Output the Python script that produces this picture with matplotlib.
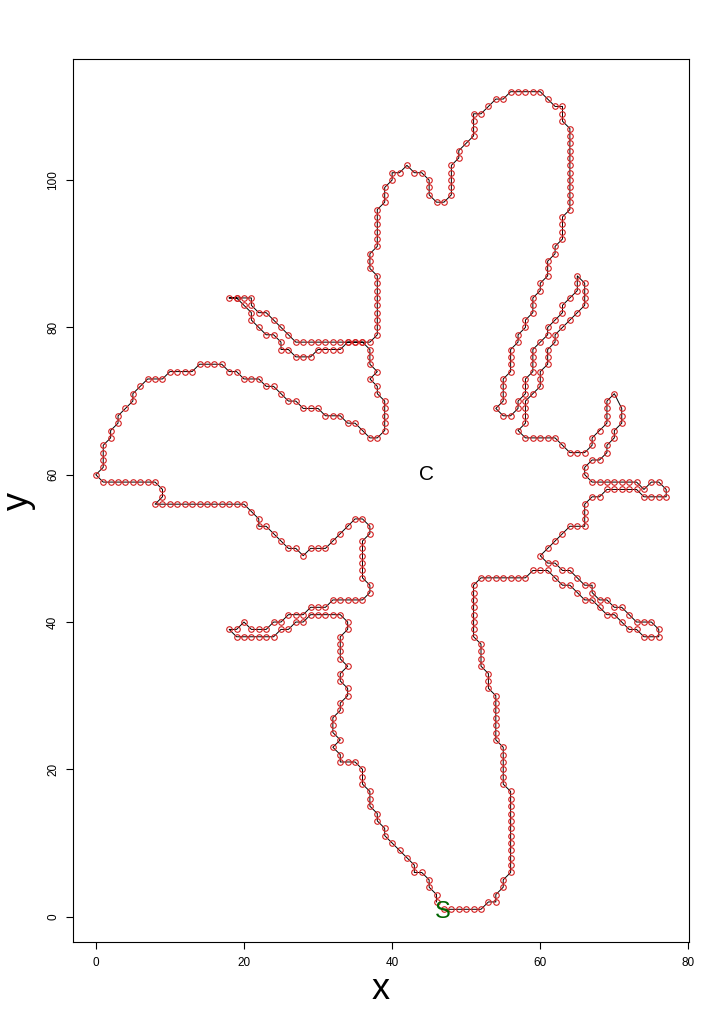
import matplotlib
matplotlib.use("Agg")
import matplotlib.pyplot as plt
import numpy as np

# contour points, traced counter-clockwise from the start point S
base_right_x = [47, 48, 49, 50, 51, 52, 53, 54, 54, 55, 55,
                56, 56, 56, 56, 56, 56, 56, 56, 56, 56, 56, 56,
                55, 55, 55, 55, 55, 55,
                54, 54, 54, 54, 54, 54, 54,
                53, 53, 53,
                52, 52, 52, 52,
                51, 51, 51, 51, 51, 51, 51, 51,
                52, 53, 54, 55, 56, 57, 58,
                59, 60, 61]
base_right_y = [1, 1, 1, 1, 1, 1, 2, 2, 3, 4, 5,
                6, 7, 8, 9, 10, 11, 12, 13, 14, 15, 16, 17,
                18, 19, 20, 21, 22, 23,
                24, 25, 26, 27, 28, 29, 30,
                31, 32, 33,
                34, 35, 36, 37,
                38, 39, 40, 41, 42, 43, 44, 45,
                46, 46, 46, 46, 46, 46, 46,
                47, 47, 47]

leaf_right_low_x = [62, 63, 64, 65, 66, 67, 68, 69, 70, 71, 72, 73, 74, 75, 76,
                    76, 75, 74, 73, 72, 71, 70, 69, 68, 67,
                    67, 66, 65, 64, 63, 62, 61, 60,
                    61, 62, 63, 64, 65, 66, 66, 66, 66, 67, 68]
leaf_right_low_y = [46, 45, 45, 44, 43, 43, 42, 41, 41, 40, 39, 39, 38, 38, 38,
                    39, 40, 40, 40, 41, 42, 42, 43, 43, 44,
                    45, 45, 46, 47, 47, 48, 48, 49,
                    50, 51, 52, 53, 53, 53, 54, 55, 56, 57, 57]

leaf_right_mid_x = [69, 70, 71, 72, 73, 74, 75, 76, 77, 77, 76, 75, 74,
                    73, 72, 71, 70, 69, 68, 67, 66, 66, 67, 68, 69, 69,
                    70, 70, 71, 71, 71, 70, 69, 69, 69, 69, 68, 67, 67,
                    66, 65, 64, 63, 62, 61, 60, 59, 58, 57]
leaf_right_mid_y = [58, 58, 58, 58, 58, 57, 57, 57, 57, 58, 59, 59, 58,
                    59, 59, 59, 59, 59, 59, 59, 60, 61, 62, 62, 63, 64,
                    65, 66, 67, 68, 69, 71, 70, 69, 68, 67, 66, 65, 64,
                    63, 63, 63, 64, 65, 65, 65, 65, 65, 66]

finger_right_x = [58, 58, 58, 58, 59, 60, 60, 60, 61, 61, 61, 62, 62, 63, 64, 65,
                  66, 66, 66, 66, 65, 65, 65, 64, 63, 63, 62, 61, 61, 60, 59, 59,
                  59, 59, 58, 58, 58, 57, 57, 56, 55, 54, 55, 55, 55, 55, 56, 56,
                  56, 56, 57, 57, 58, 58, 59, 59, 59, 60, 60, 61, 61, 61]
finger_right_y = [67, 68, 69, 70, 71, 72, 73, 74, 75, 76, 77, 78, 79, 80, 81, 82,
                  83, 84, 85, 86, 87, 86, 85, 84, 83, 82, 81, 80, 79, 78, 77, 76,
                  75, 74, 73, 72, 71, 70, 69, 68, 68, 69, 70, 71, 72, 73, 74, 75,
                  76, 77, 78, 79, 80, 81, 82, 83, 84, 85, 86, 87, 88, 89]

top_lobe_x = [62, 62, 63, 63, 63, 63, 64, 64, 64, 64, 64, 64, 64, 64, 64, 64,
              64, 64, 63, 63, 63, 62, 61, 60, 59, 58, 57, 56, 55, 54, 53, 52,
              51, 51, 51, 51, 50, 49, 49, 48, 48, 48, 48, 48, 47, 46, 45, 45,
              45, 44, 43, 42, 41, 40, 40, 39, 39, 39, 38, 38, 38, 38, 38, 38,
              37, 37, 37, 38, 38, 38, 38, 38, 38, 38, 38, 38]
top_lobe_y = [90, 91, 92, 93, 94, 95, 96, 97, 98, 99, 100, 101, 102, 103, 104, 105,
              106, 107, 108, 109, 110, 110, 111, 112, 112, 112, 112, 112, 111, 111, 110, 109,
              109, 108, 107, 106, 105, 104, 103, 102, 101, 100, 99, 98, 97, 97, 98, 99,
              100, 101, 101, 102, 101, 101, 100, 99, 98, 97, 96, 95, 94, 93, 92, 91,
              90, 89, 88, 87, 86, 85, 84, 83, 82, 81, 80, 79]

leaf_left_up_x = [37, 36, 35, 34, 33, 32, 31, 30, 29, 28, 27, 26, 25, 24, 23, 22,
                  21, 21, 20, 19, 18, 19, 20, 21, 21, 22, 23, 24, 25, 25, 26, 27,
                  28, 29, 30, 31, 32, 33, 34, 35, 36, 37, 37, 37, 38, 37, 38, 38,
                  39, 39, 39, 39, 39, 38, 37]
leaf_left_up_y = [78, 78, 78, 78, 78, 78, 78, 78, 78, 78, 78, 79, 80, 81, 82, 82,
                  83, 84, 84, 84, 84, 84, 83, 82, 81, 80, 79, 79, 78, 77, 77, 76,
                  76, 76, 77, 77, 77, 77, 78, 78, 78, 77, 76, 75, 74, 73, 72, 71,
                  70, 69, 68, 67, 66, 65, 65]

lobe_left_x = [36, 35, 34, 33, 32, 31, 30, 29, 28, 27, 26, 25, 24, 23, 22, 21,
               20, 19, 18, 17, 16, 15, 14, 13, 12, 11, 10, 9, 8, 7, 6, 5,
               5, 4, 3, 3, 2, 2, 1, 1, 1, 1, 0, 1, 2, 3, 4, 5,
               6, 7, 8, 9, 9, 8, 9, 10, 11, 12, 13, 14, 15, 16, 17, 18,
               19, 20, 21, 22, 22, 23, 24, 25, 26, 27, 28, 29, 30, 31, 32, 33,
               34, 35, 36, 37, 37, 36, 36, 36, 36, 36, 36, 37, 37]
lobe_left_y = [66, 67, 67, 68, 68, 68, 69, 69, 69, 70, 70, 71, 72, 72, 73, 73,
               73, 74, 74, 75, 75, 75, 75, 74, 74, 74, 74, 73, 73, 73, 72, 71,
               70, 69, 68, 67, 66, 65, 64, 63, 62, 61, 60, 59, 59, 59, 59, 59,
               59, 59, 59, 58, 57, 56, 56, 56, 56, 56, 56, 56, 56, 56, 56, 56,
               56, 56, 55, 54, 53, 53, 52, 51, 50, 50, 49, 50, 50, 50, 51, 52,
               53, 54, 54, 53, 52, 51, 50, 49, 48, 47, 46, 45, 44]

base_left_x = [36, 35, 34, 33, 32, 31, 30, 29, 28, 27, 26, 25, 24, 23, 22, 21,
               20, 19, 18, 19, 20, 21, 22, 23, 24, 25, 26, 27, 28, 29, 30, 31,
               32, 33, 34, 34, 33, 33, 33, 33, 34, 33, 33, 34, 34, 33, 33, 32,
               32, 32, 33, 32, 33, 33, 34, 35, 36, 36, 36, 37, 37, 37, 38, 38,
               39, 39, 40, 41, 42, 43, 43, 44, 45, 45, 46, 46]
base_left_y = [43, 43, 43, 43, 43, 42, 42, 42, 41, 41, 41, 40, 40, 39, 39, 39,
               40, 39, 39, 38, 38, 38, 38, 38, 38, 39, 39, 40, 40, 41, 41, 41,
               41, 41, 40, 39, 38, 37, 36, 35, 34, 33, 32, 31, 30, 29, 28, 27,
               26, 25, 24, 23, 22, 21, 21, 21, 20, 19, 18, 17, 16, 15, 14, 13,
               12, 11, 10, 9, 8, 7, 6, 6, 5, 4, 3, 2]

# label positions
start_xy = (47, 1)
centre_xy = (44.6, 60.0)

xs = np.array(base_right_x + leaf_right_low_x + leaf_right_mid_x + finger_right_x
              + top_lobe_x + leaf_left_up_x + lobe_left_x + base_left_x)
ys = np.array(base_right_y + leaf_right_low_y + leaf_right_mid_y + finger_right_y
              + top_lobe_y + leaf_left_up_y + lobe_left_y + base_left_y)

plt.rcParams['font.family'] = ['Liberation Sans', 'DejaVu Sans']

fig = plt.figure(figsize=(7.2, 10.17), dpi=100)
ax = fig.add_axes([73 / 720, 75 / 1017, 616 / 720, 883 / 1017])

ax.plot(xs, ys, color='black', lw=0.7, zorder=1)
ax.plot(xs, ys, 'o', ms=4.0, mfc='none', mec='#d42020', mew=0.8, zorder=2)

ax.annotate('S', start_xy, xytext=(-1, -2), textcoords='offset points',
            color='#006400', fontsize=17, ha='center', va='center', zorder=3)
ax.text(centre_xy[0], centre_xy[1], 'C', color='black', fontsize=15,
        ha='center', va='center', zorder=3)

# R style 4% padding
px = 0.04 * (xs.max() - xs.min())
py = 0.04 * (ys.max() - ys.min())
ax.set_xlim(xs.min() - px, xs.max() + px)
ax.set_ylim(ys.min() - py, ys.max() + py)

ax.set_xticks([0, 20, 40, 60, 80])
ax.set_yticks([0, 20, 40, 60, 80, 100])
ax.tick_params(direction='out', length=5, width=0.8, labelsize=8.5)
ax.tick_params(axis='x', pad=6)
ax.tick_params(axis='y', pad=5)
for lab in ax.get_yticklabels():
    lab.set_rotation(90)
    lab.set_va('center')

for s in ax.spines.values():
    s.set_linewidth(0.8)

ax.set_xlabel('x', fontsize=26, va='center')
ax.xaxis.set_label_coords(0.5, -0.054)
ax.set_ylabel('y', fontsize=26, va='center')
ax.yaxis.set_label_coords(-0.089, 0.5)

fig.savefig('out.png', dpi=100)
